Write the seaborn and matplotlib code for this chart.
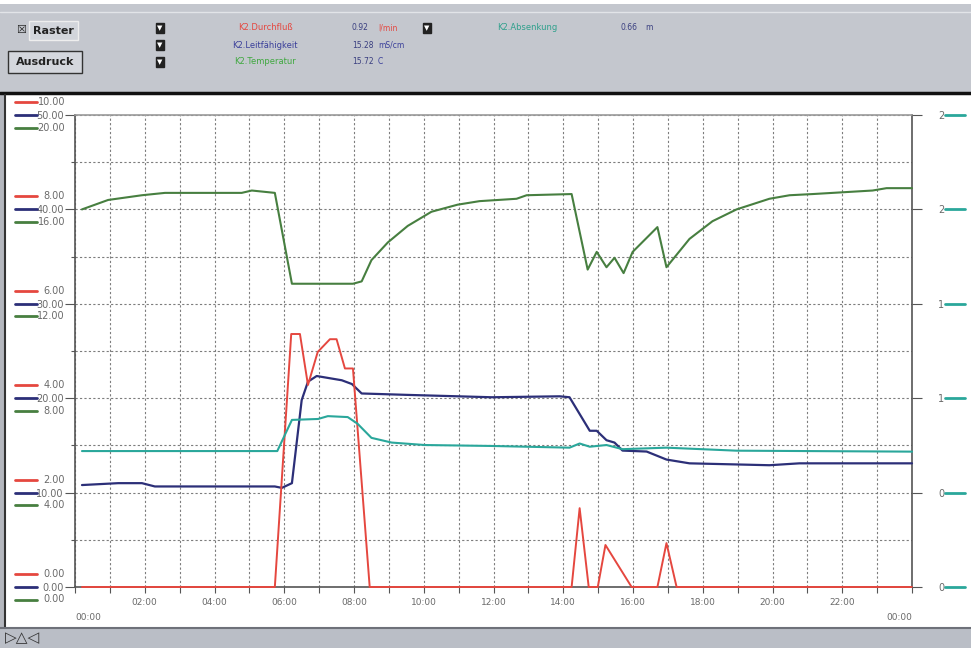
import matplotlib
matplotlib.use("Agg")
import matplotlib.pyplot as plt
import matplotlib.transforms as mtrans
from matplotlib.patches import Rectangle
from matplotlib.lines import Line2D
from matplotlib.ticker import MultipleLocator, FuncFormatter
import seaborn as sns
import pandas as pd

# K2.Temperatur (C)
hours_temp = [0.2, 0.95, 1.92, 2.58, 4.78, 5.07, 5.73, 6.22, 7.97, 8.22, 8.5, 8.97, 9.54,
              10.22, 10.97, 11.6, 12.66, 12.95, 14.24, 14.7, 14.96, 15.24, 15.47, 15.73,
              15.99, 16.7, 16.96, 17.62, 18.28, 18.97, 19.91, 20.49, 21.15, 22.87, 23.27, 24.0]
temp = [16.0, 16.4, 16.6, 16.7, 16.7, 16.8, 16.7, 12.85, 12.85, 12.95, 13.85, 14.6, 15.3,
        15.9, 16.2, 16.35, 16.45, 16.6, 16.65, 13.45, 14.2, 13.55, 13.95, 13.3,
        14.2, 15.25, 13.55, 14.75, 15.5, 16.0, 16.45, 16.6, 16.65, 16.8, 16.9, 16.9]

# K2.Leitfähigkeit (mS/cm)
hours_cond = [0.2, 1.24, 1.92, 2.29, 5.73, 5.93, 6.22, 6.5, 6.68, 6.93, 7.65, 7.94, 8.22,
              9.54, 11.95, 13.9, 14.18, 14.76, 14.96, 15.24, 15.47, 15.7, 16.39, 16.96,
              17.62, 19.91, 20.77, 24.0]
cond = [10.8, 11.0, 11.0, 10.65, 10.65, 10.5, 11.0, 19.8, 21.75, 22.35, 21.9, 21.5, 20.5,
        20.35, 20.1, 20.2, 20.1, 16.55, 16.55, 15.55, 15.3, 14.45, 14.35, 13.5,
        13.1, 12.9, 13.1, 13.1]

# K2.Absenkung (m)
hours_level = [0.2, 5.8, 6.22, 6.97, 7.25, 7.82, 8.1, 8.5, 9.08, 10.03, 11.95, 14.18,
               14.47, 14.76, 15.24, 15.7, 16.96, 18.97, 24.0]
level = [0.72, 0.72, 0.885, 0.89, 0.905, 0.9, 0.865, 0.79, 0.765, 0.752, 0.747, 0.738,
         0.76, 0.743, 0.752, 0.73, 0.738, 0.722, 0.717]

# K2.Durchfluß (l/min)
hours_flow = [0.2, 5.73, 6.2, 6.45, 6.68, 6.96, 7.31, 7.5, 7.74, 7.97, 8.45, 14.24, 14.47,
              14.73, 14.99, 15.21, 15.96, 16.7, 16.96, 17.25, 24.0]
flow = [0, 0, 5.36, 5.36, 4.28, 4.98, 5.25, 5.25, 4.63, 4.63, 0, 0, 1.67,
        0, 0, 0.89, 0, 0, 0.93, 0, 0]

flow_ticks = [0, 2, 4, 6, 8, 10]
cond_ticks = [0, 10, 20, 30, 40, 50]
temp_ticks = [0, 4, 8, 12, 16, 20]
level_ticks = [0, 0.5, 1.0, 1.5, 2.0, 2.5]

RED, BLUE, GREEN, TEAL = "#e5473f", "#2c2f78", "#477f40", "#2aa79b"
GRID, AXC, LAB = "#7d7d7d", "#555555", "#6a6a6a"

sns.set_style("white")
plt.rcParams['font.family'] = ['DejaVu Sans']

W, H = 971, 648
fig = plt.figure(figsize=(W / 100, H / 100), dpi=100)

def fx(x):
    return x / W

def fy(y):
    return 1 - y / H

def box(x0, y0, x1, y1, **kw):
    fig.add_artist(Rectangle((fx(x0), fy(y1)), (x1 - x0) / W, (y1 - y0) / H,
                             transform=fig.transFigure, **kw))

def hline(x0, x1, y, **kw):
    fig.add_artist(Line2D([fx(x0), fx(x1)], [fy(y), fy(y)], transform=fig.transFigure, **kw))

# header panel
box(0, 0, W, 93, fc="#c4c7ce", ec="none")
box(0, 0, W, 4, fc="white", ec="none")
hline(0, W, 12, color="#e2e4e8", lw=1)
hline(0, W, 93, color="#111111", lw=2.5)

fig.text(fx(21), fy(30), "☒", fontsize=8, ha="center", va="center", color="#222")
box(29, 21, 78, 40, fc="#d2d5db", ec="#eeeeee", lw=1)
fig.text(fx(53), fy(31), "Raster", fontsize=8, fontweight="bold", ha="center", va="center", color="#222")
box(8, 51, 82, 73, fc="#d4d7dd", ec="#333333", lw=1)
fig.text(fx(45), fy(62), "Ausdruck", fontsize=8, fontweight="bold", ha="center", va="center", color="#222")

for (dx, dy) in [(160, 28), (160, 45), (160, 62), (427, 28)]:
    fig.text(fx(dx), fy(dy), "▼", fontsize=5, ha="center", va="center", color="white",
             bbox=dict(boxstyle="square,pad=0.25", fc="#222", ec="#222"))

hdr = [("K2.Durchfluß", RED, 28, "0.92", "l/min", RED),
       ("K2.Leitfähigkeit", "#3a3f9a", 45, "15.28", "mS/cm", "#3a3f9a"),
       ("K2.Temperatur", "#3fa83f", 62, "15.72", "C", "#3a3f9a")]
for name, col, yy, val, unit, ucol in hdr:
    fig.text(fx(265), fy(yy), name, fontsize=6, ha="center", va="center", color=col)
    fig.text(fx(352), fy(yy), val, fontsize=5.5, ha="left", va="center", color="#3a3f80")
    fig.text(fx(378), fy(yy), unit, fontsize=5.5, ha="left", va="center", color=ucol)
fig.text(fx(527), fy(27), "K2.Absenkung", fontsize=6, ha="center", va="center", color="#2fa08c")
fig.text(fx(620), fy(27), "0.66", fontsize=5.5, ha="left", va="center", color="#3a3f80")
fig.text(fx(645), fy(27), "m", fontsize=5.5, ha="left", va="center", color="#3a3f80")

# panel borders
box(0, 95, 4, 628, fc="#b4b7be", ec="none")
fig.add_artist(Line2D([fx(5), fx(5)], [fy(95), fy(628)], transform=fig.transFigure, color="#333", lw=1.5))
box(0, 628, W, H, fc="#babec6", ec="none")
hline(0, W, 628, color="#6e7179", lw=1.5)
fig.text(fx(5), fy(638), "▷△◁", fontsize=11, ha="left", va="center", color="#333")

# plot area
ax = fig.add_axes([fx(75), fy(587), (912 - 75) / W, (587 - 115) / H])
ax.set_facecolor("white")
sns.lineplot(data=pd.DataFrame({"h": hours_cond, "v": cond}), x="h", y="v", ax=ax,
             color=BLUE, lw=1.6, estimator=None, zorder=3)

ax_r = ax.twinx()
sns.lineplot(data=pd.DataFrame({"h": hours_flow, "v": flow}), x="h", y="v", ax=ax_r,
             color=RED, lw=1.4, estimator=None)
ax_g = ax.twinx()
sns.lineplot(data=pd.DataFrame({"h": hours_temp, "v": temp}), x="h", y="v", ax=ax_g,
             color=GREEN, lw=1.5, estimator=None)
ax_t = ax.twinx()
sns.lineplot(data=pd.DataFrame({"h": hours_level, "v": level}), x="h", y="v", ax=ax_t,
             color=TEAL, lw=1.5, estimator=None)

for a, lim in [(ax, cond_ticks), (ax_r, flow_ticks), (ax_g, temp_ticks), (ax_t, level_ticks)]:
    a.set_xlim(0, 24)
    a.set_ylim(lim[0], lim[-1])
    a.set_xlabel("")
    a.set_ylabel("")
    for ln in a.lines:
        ln.set_clip_on(False)

for a in (ax_r, ax_g):
    a.set_axis_off()

# grid and axes
ax.xaxis.set_major_locator(MultipleLocator(2))
ax.xaxis.set_minor_locator(MultipleLocator(1))
ax.set_yticks(cond_ticks)
ax.yaxis.set_minor_locator(MultipleLocator(5))
ax.grid(which="both", color=GRID, ls=(0, (2, 2)), lw=0.8)
ax.xaxis.set_major_formatter(FuncFormatter(lambda v, p: "" if v in (0, 24) else f"{int(v):02d}:00"))
ax.yaxis.set_major_formatter(FuncFormatter(lambda v, p: f"{v:.2f}"))
ax.tick_params(axis="x", which="both", bottom=True, length=4, width=0.8, color=AXC,
               labelsize=6.5, labelcolor=LAB, pad=4)
ax.tick_params(axis="y", which="major", left=True, length=7, width=0.8, color=AXC,
               labelsize=7, labelcolor=LAB, pad=1)
ax.tick_params(axis="y", which="minor", left=True, length=3, width=0.8, color=AXC)
for s in ["left", "bottom", "right"]:
    ax.spines[s].set_color(AXC)
    ax.spines[s].set_linewidth(1.2)
ax.spines["top"].set_color("#9a9a9a")
ax.spines["top"].set_linewidth(1.2)

xt = mtrans.blended_transform_factory(ax.transData, ax.transAxes)
ax.text(0, -0.064, "00:00", transform=xt, ha="left", va="center", fontsize=6.5, color=LAB)
ax.text(24, -0.064, "00:00", transform=xt, ha="right", va="center", fontsize=6.5, color=LAB)

# right scale (Absenkung)
for s in ax_t.spines.values():
    s.set_visible(False)
ax_t.set_yticks(level_ticks)
ax_t.yaxis.set_major_formatter(FuncFormatter(lambda v, p: f"{int(v)}"))
ax_t.tick_params(axis="y", right=True, length=7, width=0.8, color=AXC, labelsize=7,
                 labelcolor=LAB, pad=12)
rt = mtrans.blended_transform_factory(ax_t.transAxes, ax_t.transData)
for v in level_ticks:
    ax_t.plot([1.039, 1.063], [v, v], transform=rt, color=TEAL, lw=2, clip_on=False)

# stacked left scales with colour keys
up = mtrans.ScaledTranslation(0, 0.13, fig.dpi_scale_trans)
down = mtrans.ScaledTranslation(0, -0.125, fig.dpi_scale_trans)
bt = mtrans.blended_transform_factory(ax.transAxes, ax.transData)
rtr = mtrans.blended_transform_factory(ax_r.transAxes, ax_r.transData) + up
gtr = mtrans.blended_transform_factory(ax_g.transAxes, ax_g.transData) + down
kx = [-0.0717, -0.0454]
for vr, vb, vg in zip(flow_ticks, cond_ticks, temp_ticks):
    ax.plot(kx, [vb, vb], transform=bt, color=BLUE, lw=2, clip_on=False)
    ax_r.plot(kx, [vr, vr], transform=rtr, color=RED, lw=2, clip_on=False)
    ax_r.text(-0.012, vr, f"{vr:.2f}", transform=rtr, ha="right", va="center", fontsize=7, color=LAB)
    ax_g.plot(kx, [vg, vg], transform=gtr, color=GREEN, lw=2, clip_on=False)
    ax_g.text(-0.012, vg, f"{vg:.2f}", transform=gtr, ha="right", va="center", fontsize=7, color=LAB)

fig.savefig("out.png", dpi=100)
